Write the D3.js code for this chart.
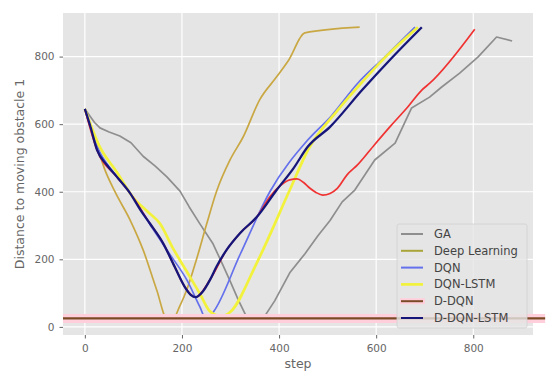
<!DOCTYPE html>
<html>
<head>
<meta charset="utf-8">
<script src="https://cdn.jsdelivr.net/npm/d3@7"></script>
<style>
  body { margin: 0; background: #fff; }
  text { font-family: "DejaVu Sans", sans-serif; }
</style>
</head>
<body>
<div id="chart"></div>
<script>
// series values, as [step, distance]
var gaData = [[0,645],[20,605],[31,589],[50,577],[72,565],[95,545],[120,505],[145,476],[169,444],[196,402],[215,355],[237,305],[264,246],[282,190],[299,136],[316,80],[333,30],[345,20],[365,20],[391,77],[422,160],[453,216],[480,270],[505,315],[530,370],[556,405],[597,494],[639,544],[673,648],[710,680],[735,710],[772,751],[810,799],[848,858],[880,846]];
var deepLearningData = [[0,645],[20,562],[40,470],[62,400],[93,317],[120,228],[148,109],[169,25],[182,25],[195,60],[210,110],[230,200],[251,305],[271,400],[299,494],[326,562],[360,672],[395,740],[420,790],[453,870],[566,887]];
var dqnData = [[0,645],[25,535],[66,445],[100,382],[140,290],[175,215],[210,139],[237,59],[250,22],[265,45],[320,215],[381,400],[459,553],[508,625],[562,721],[618,799],[680,887]];
var dqnLstmData = [[0,645],[30,535],[66,458],[100,382],[130,340],[155,305],[181,234],[209,166],[237,98],[257,47],[270,35],[285,33],[300,45],[354,189],[422,405],[460,525],[520,640],[562,710],[620,800],[686,887]];
var dDqnData = [[0,645],[25,524],[66,444],[93,396],[134,306],[161,248],[185,178],[206,118],[228,88],[258,140],[292,228],[320,278],[354,325],[381,385],[400,415],[422,435],[437,438],[450,428],[463,411],[476,398],[490,390],[505,395],[520,410],[540,450],[562,480],[597,540],[630,595],[665,651],[694,701],[711,722],[803,881]];
var dDqnLstmData = [[0,645],[12,590],[25,524],[45,480],[66,444],[93,396],[115,345],[134,306],[161,248],[185,178],[206,118],[218,95],[228,88],[243,105],[258,140],[271,178],[292,228],[320,278],[354,325],[395,405],[430,470],[459,533],[505,592],[571,701],[632,796],[694,887]];

var seriesNames = ["GA", "Deep Learning", "DQN", "DQN-LSTM", "D-DQN", "D-DQN-LSTM"];
var thresholdValue = 25;
var thresholdSpan = [-45, 948];

var xTicks = [0, 200, 400, 600, 800];
var yTicks = [0, 200, 400, 600, 800];

var width = 550, height = 382;
var margin = {top: 13, right: 17, bottom: 47, left: 63};

var svg = d3.select("#chart").append("svg")
    .attr("width", width)
    .attr("height", height);

var x = d3.scaleLinear().domain([-45, 923]).range([margin.left, width - margin.right]);
var y = d3.scaleLinear().domain([-24, 929]).range([height - margin.bottom, margin.top]);

// panel
svg.append("rect")
    .attr("x", margin.left).attr("y", margin.top)
    .attr("width", width - margin.left - margin.right)
    .attr("height", height - margin.top - margin.bottom)
    .attr("fill", "#e5e5e5");

var grid = svg.append("g");
grid.selectAll(".gx").data(xTicks).enter().append("line")
    .attr("x1", d => x(d)).attr("x2", d => x(d))
    .attr("y1", margin.top).attr("y2", height - margin.bottom)
    .attr("stroke", "#fff").attr("stroke-width", 1.2);
grid.selectAll(".gy").data(yTicks).enter().append("line")
    .attr("y1", d => y(d)).attr("y2", d => y(d))
    .attr("x1", margin.left).attr("x2", width - margin.right)
    .attr("stroke", "#fff").attr("stroke-width", 1.2);

var xAxis = svg.append("g")
    .attr("transform", "translate(0," + (height - margin.bottom) + ")")
    .call(d3.axisBottom(x).tickValues(xTicks).tickSize(3.5).tickPadding(6));
var yAxis = svg.append("g")
    .attr("transform", "translate(" + margin.left + ",0)")
    .call(d3.axisLeft(y).tickValues(yTicks).tickSize(3.5).tickPadding(5));
[xAxis, yAxis].forEach(function(a) {
    a.select(".domain").remove();
    a.selectAll(".tick line").attr("stroke", "#666");
    a.selectAll(".tick text").attr("fill", "#666").style("font-size", "10.5px");
});

svg.append("text")
    .attr("x", (margin.left + width - margin.right) / 2)
    .attr("y", 368)
    .attr("text-anchor", "middle")
    .attr("fill", "#666")
    .style("font-size", "12.5px")
    .text("step");

svg.append("text")
    .attr("transform", "translate(24," + ((margin.top + height - margin.bottom) / 2) + ") rotate(-90)")
    .attr("text-anchor", "middle")
    .attr("fill", "#666")
    .style("font-size", "12.5px")
    .text("Distance to moving obstacle 1");

var line = d3.line()
    .x(d => x(d[0]))
    .y(d => y(d[1]))
    .curve(d3.curveMonotoneX);

var series = [
    {name: seriesNames[0], data: gaData, color: "#8e8e8e", w: 1.7, curve: d3.curveLinear},
    {name: seriesNames[1], data: deepLearningData, color: "#c9a844", w: 1.7},
    {name: seriesNames[2], data: dqnData, color: "#6470ec", w: 1.7},
    {name: seriesNames[3], data: dqnLstmData, color: "#f2f23c", w: 2.7},
    {name: seriesNames[4], data: dDqnData, color: "#f03232", w: 1.7},
    {name: seriesNames[5], data: dDqnLstmData, color: "#16167a", w: 2.3}
];

series.forEach(function(s) {
    svg.append("path")
        .datum(s.data)
        .attr("fill", "none")
        .attr("stroke", s.color)
        .attr("stroke-width", s.w)
        .attr("stroke-linejoin", "round")
        .attr("d", line.curve(s.curve || d3.curveMonotoneX));
});

// threshold line, pink halo with a brown core
svg.append("line")
    .attr("x1", x(thresholdSpan[0])).attr("x2", x(thresholdSpan[1]))
    .attr("y1", y(thresholdValue)).attr("y2", y(thresholdValue))
    .attr("stroke", "#ffd0dc").attr("stroke-width", 9);
svg.append("line")
    .attr("x1", x(thresholdSpan[0])).attr("x2", x(thresholdSpan[1]))
    .attr("y1", y(thresholdValue)).attr("y2", y(thresholdValue))
    .attr("stroke", "#7a4a26").attr("stroke-width", 2.2);

// legend
var legendColors = ["#8e8e8e", "#aaa53a", "#6470ec", "#f2f23c", "#7a4a26", "#16167a"];
var lg = svg.append("g").attr("transform", "translate(397,224)");
lg.append("rect")
    .attr("width", 130).attr("height", 104)
    .attr("rx", 2)
    .attr("fill", "#e5e5e5").attr("fill-opacity", 0.8)
    .attr("stroke", "#d0d0d0").attr("stroke-width", 0.8);

var items = lg.selectAll(".item").data(seriesNames).enter().append("g")
    .attr("transform", (d, i) => "translate(0," + (10 + i * 16.8) + ")");
items.filter((d, i) => i === 4).append("line")
    .attr("x1", 3).attr("x2", 28)
    .attr("stroke", "#ffd0dc").attr("stroke-width", 6);
items.append("line")
    .attr("x1", 4).attr("x2", 26)
    .attr("stroke", (d, i) => legendColors[i])
    .attr("stroke-width", (d, i) => i === 3 ? 2.7 : 2);
items.append("text")
    .attr("x", 37).attr("dy", "0.35em")
    .attr("fill", "#444")
    .style("font-size", "11.5px")
    .text(d => d);
</script>
</body>
</html>
